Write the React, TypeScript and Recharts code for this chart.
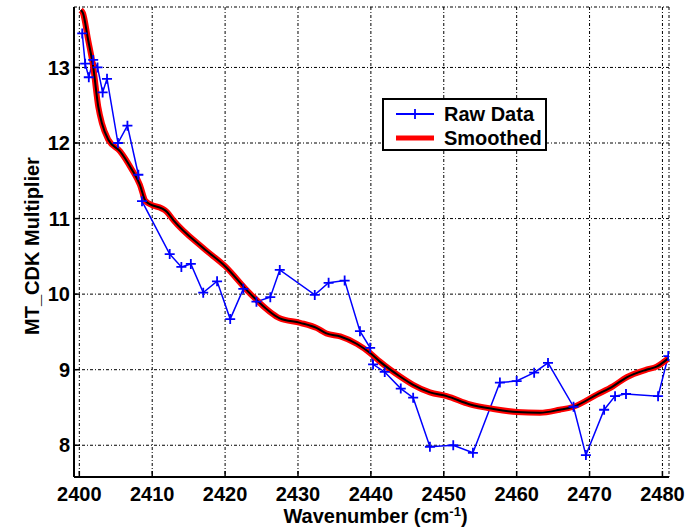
import { ComposedChart, Line, XAxis, YAxis, CartesianGrid, Legend } from 'recharts';

// measured multiplier vs wavenumber
const rawWavenumber = [
  2400.4, 2400.8, 2401.3, 2401.9, 2402.5, 2403.2, 2403.8, 2405.3, 2406.6, 2408.1,
  2408.6, 2412.4, 2414.0, 2415.3, 2417.0, 2418.9, 2420.7, 2422.5, 2424.3, 2426.2,
  2427.5, 2432.3, 2434.2, 2436.4, 2438.5, 2439.9, 2440.3, 2441.9, 2444.1, 2445.8,
  2448.1, 2451.3, 2454.0, 2457.7, 2460.0, 2462.4, 2464.3, 2467.8, 2469.5, 2472.0,
  2473.5, 2475.0, 2479.4, 2480.8,
];
const rawMultiplier = [
  13.45, 13.05, 12.87, 13.1, 13.0, 12.67, 12.85, 12.0, 12.23, 11.58,
  11.23, 10.53, 10.36, 10.4, 10.02, 10.17, 9.67, 10.07, 9.9, 9.96,
  10.32, 9.99, 10.15, 10.18, 9.51, 9.29, 9.07, 8.97, 8.75, 8.63,
  7.98, 8.0, 7.9, 8.83, 8.85, 8.96, 9.09, 8.51, 7.87, 8.47,
  8.65, 8.68, 8.65, 9.18,
];

// smoothed fit
const smoothWavenumber = [
  2400.2, 2400.5, 2401.2, 2401.9, 2402.6, 2403.1, 2404.0, 2405.6, 2407.2, 2408.3,
  2409.1, 2412.0, 2412.9, 2417.0, 2420.0, 2423.4, 2427.5, 2430.3, 2432.6, 2433.9,
  2435.8, 2438.1, 2439.9, 2441.2, 2444.0, 2445.8, 2448.1, 2450.4, 2453.6, 2456.8,
  2460.0, 2463.2, 2465.9, 2467.8, 2471.0, 2473.2, 2475.1, 2477.8, 2479.2, 2480.8,
];
const smoothMultiplier = [
  13.76, 13.72, 13.37, 13.01, 12.48, 12.26, 12.04, 11.89, 11.65, 11.45,
  11.23, 11.09, 10.98, 10.61, 10.37, 10.01, 9.68, 9.62, 9.55, 9.48,
  9.44, 9.34, 9.22, 9.11, 8.91, 8.8, 8.7, 8.65, 8.54, 8.48,
  8.44, 8.43, 8.47, 8.51, 8.67, 8.78, 8.9, 9.0, 9.04, 9.15,
];

const xTicks = [2400, 2410, 2420, 2430, 2440, 2450, 2460, 2470, 2480];
const yTicks = [8, 9, 10, 11, 12, 13];

const rawData = rawWavenumber.map((w, i) => ({ w, raw: rawMultiplier[i] }));
const smoothData = smoothWavenumber.map((w, i) => ({ w, smooth: smoothMultiplier[i] }));

const FONT = '"Liberation Sans", Arial, Helvetica, sans-serif';
const tickStyle = { fill: '#000', fontSize: 20, fontWeight: 700, fontFamily: FONT };
const axisLine = { stroke: '#000', strokeWidth: 2 };
const tickLine = { stroke: '#000', strokeWidth: 1.5 };

const PlusDot = (props: any) => {
  const { cx, cy } = props;
  if (cx == null || cy == null) return <g />;
  return (
    <path
      d={`M${cx - 5},${cy}H${cx + 5}M${cx},${cy - 5}V${cy + 5}`}
      stroke="#0000ff"
      strokeWidth={1.8}
      fill="none"
    />
  );
};

const XLabel = (props: any) => {
  const { x, y, width } = props.viewBox;
  return (
    <text
      x={x + width / 2 + 4}
      y={y + 46}
      textAnchor="middle"
      fontFamily={FONT}
      fontSize={20}
      fontWeight={700}
      fill="#000"
    >
      Wavenumber (cm
      <tspan dy={-7} fontSize={13}>-1</tspan>
      <tspan dy={7}>)</tspan>
    </text>
  );
};

const YLabel = () => (
  <text
    x={32}
    y={246}
    transform="rotate(-90 32 246)"
    textAnchor="middle"
    dominantBaseline="central"
    fontFamily={FONT}
    fontSize={20}
    fontWeight={700}
    fill="#000"
  >
    MT_CDK Multiplier
  </text>
);

const renderLegend = () => (
  <div
    style={{
      width: 161,
      height: 49,
      border: '2px solid #000',
      background: '#fff',
      fontFamily: FONT,
      fontWeight: 700,
      fontSize: 20,
      color: '#000',
      position: 'relative',
    }}
  >
    <svg width={50} height={49} style={{ position: 'absolute', left: 0, top: 0 }}>
      <line x1={12} y1={14} x2={50} y2={14} stroke="#0000ff" strokeWidth={1.8} />
      <path d="M31,9V19" stroke="#0000ff" strokeWidth={1.8} />
      <line x1={12} y1={38} x2={50} y2={38} stroke="#ff0000" strokeWidth={5} />
    </svg>
    <div style={{ position: 'absolute', left: 60, top: 2, lineHeight: '24px' }}>Raw Data</div>
    <div style={{ position: 'absolute', left: 60, top: 26, lineHeight: '24px' }}>Smoothed</div>
  </div>
);

export default function App() {
  return (
    <div style={{ position: 'absolute', left: 0, top: 0, width: 694, height: 530, background: '#fff' }}>
      <ComposedChart width={694} height={530} margin={{ top: 7, right: 25, bottom: 0, left: 0 }}>
        <CartesianGrid stroke="#000" strokeWidth={1} strokeDasharray="3 2 1 2" />
        <XAxis
          type="number"
          dataKey="w"
          domain={[2399.27, 2480.9]}
          ticks={xTicks}
          allowDataOverflow
          height={53}
          tick={tickStyle}
          tickSize={-6}
          tickMargin={15.5}
          axisLine={axisLine}
          tickLine={tickLine}
          label={<XLabel />}
        />
        <XAxis
          xAxisId="top"
          orientation="top"
          type="number"
          dataKey="w"
          domain={[2399.27, 2480.9]}
          ticks={xTicks}
          allowDataOverflow
          height={0}
          tick={false}
          tickSize={-6}
          axisLine={axisLine}
          tickLine={tickLine}
        />
        <YAxis
          type="number"
          domain={[7.58, 13.8]}
          ticks={yTicks}
          allowDataOverflow
          width={74}
          tick={tickStyle}
          tickSize={-6}
          tickMargin={10}
          axisLine={axisLine}
          tickLine={tickLine}
          label={<YLabel />}
        />
        <YAxis
          yAxisId="right"
          orientation="right"
          type="number"
          domain={[7.58, 13.8]}
          ticks={yTicks}
          allowDataOverflow
          width={0}
          tick={false}
          tickSize={-6}
          axisLine={axisLine}
          tickLine={tickLine}
        />
        <Legend
          layout="vertical"
          align="center"
          verticalAlign="middle"
          content={renderLegend}
          wrapperStyle={{ top: 98, left: 382, width: 'auto' }}
        />
        <Line
          data={rawData}
          dataKey="raw"
          name="Raw Data"
          type="linear"
          stroke="#0000ff"
          strokeWidth={1.5}
          dot={<PlusDot />}
          activeDot={false}
          isAnimationActive={false}
        />
        <Line
          data={smoothData}
          dataKey="smooth"
          name="Smoothed"
          type="monotone"
          stroke="#ff0000"
          strokeWidth={6}
          dot={false}
          activeDot={false}
          isAnimationActive={false}
        />
        <Line
          data={smoothData}
          dataKey="smooth"
          legendType="none"
          type="monotone"
          stroke="#000"
          strokeWidth={2}
          dot={false}
          activeDot={false}
          isAnimationActive={false}
        />
      </ComposedChart>
    </div>
  );
}
